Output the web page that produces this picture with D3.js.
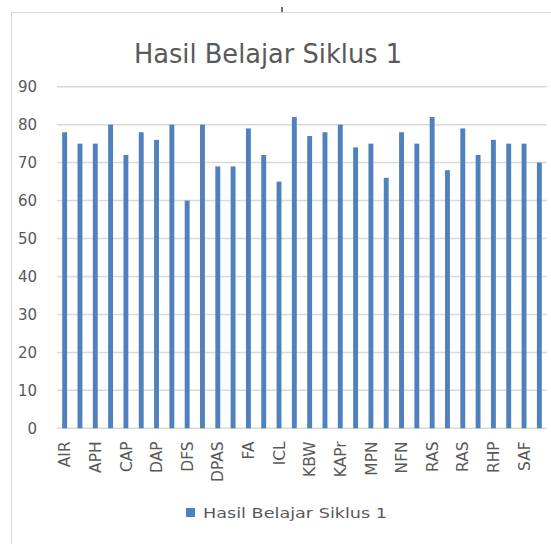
<!DOCTYPE html>
<html>
<head>
<meta charset="utf-8">
<script src="https://cdn.jsdelivr.net/npm/d3@7"></script>
<style>
  body { margin: 0; background: #fff; }
  text { font-family: "DejaVu Sans", sans-serif; fill: #595959; }
</style>
</head>
<body>
<div id="chart"></div>
<script>
// Chart values
var chartTitle = "Hasil Belajar Siklus 1";
var seriesName = "Hasil Belajar Siklus 1";

// only every other category name is printed on the axis
var tickLabels = ["AIR", "APH", "CAP", "DAP", "DFS", "DPAS", "FA", "ICL",
    "KBW", "KAPr", "MPN", "NFN", "RAS", "RAS", "RHP", "SAF"];

var values = [78, 75, 75, 80, 72, 78, 76, 80, 60, 80, 69, 69, 79, 72, 65, 82,
    77, 78, 80, 74, 75, 66, 78, 75, 82, 68, 79, 72, 76, 75, 75, 70];

var yTicks = [0, 10, 20, 30, 40, 50, 60, 70, 80, 90];

// SVG area
var svgWidth = 551;
var svgHeight = 544;

var plot = { left: 57, right: 547, top: 86.7, bottom: 428.3 };

var svg = d3.select("#chart")
    .append("svg")
    .attr("width", svgWidth)
    .attr("height", svgHeight);

// chart border (light frame, cut off on the right and bottom)
svg.append("path")
    .attr("d", "M11.5," + svgHeight + "V12.5H" + svgWidth)
    .attr("fill", "none")
    .attr("stroke", "#d9d9d9")
    .attr("stroke-width", 1);

// small dark mark above the frame
svg.append("line")
    .attr("x1", 282).attr("x2", 282)
    .attr("y1", 7).attr("y2", 12)
    .attr("stroke", "#404040")
    .attr("stroke-width", 1.5);

// scales
var xScale = d3.scaleBand()
    .domain(d3.range(values.length))
    .range([plot.left, plot.right])
    .paddingInner(0.68)
    .paddingOuter(0.34);

var yScale = d3.scaleLinear()
    .domain([0, 90])
    .range([plot.bottom, plot.top]);

// gridlines
svg.append("g")
    .selectAll("line")
    .data(yTicks)
    .enter()
    .append("line")
    .attr("x1", plot.left)
    .attr("x2", plot.right)
    .attr("y1", function (d) { return yScale(d); })
    .attr("y2", function (d) { return yScale(d); })
    .attr("stroke", "#d9d9d9")
    .attr("stroke-width", 1.5);

// y axis labels
var leftAxis = d3.axisLeft(yScale)
    .tickValues(yTicks)
    .tickSize(0)
    .tickPadding(0);

var yAxis = svg.append("g")
    .attr("transform", "translate(37,0)")
    .call(leftAxis);
yAxis.select(".domain").remove();
yAxis.selectAll("text")
    .style("font-size", "15px")
    .attr("fill", "#595959");

// bars
svg.append("g")
    .selectAll("rect")
    .data(values)
    .enter()
    .append("rect")
    .attr("x", function (d, i) { return xScale(i); })
    .attr("y", function (d) { return yScale(d); })
    .attr("width", xScale.bandwidth())
    .attr("height", function (d) { return yScale(0) - yScale(d); })
    .attr("fill", "#4f81bd");

// x axis labels (every other bar)
var bottomAxis = d3.axisBottom(xScale)
    .tickValues(d3.range(0, values.length, 2))
    .tickFormat(function (i) { return tickLabels[i / 2]; })
    .tickSize(0)
    .tickPadding(0);

var xAxis = svg.append("g")
    .attr("transform", "translate(0," + plot.bottom + ")")
    .call(bottomAxis);
xAxis.select(".domain").remove();
xAxis.selectAll("text")
    .style("font-size", "15.5px")
    .attr("fill", "#595959")
    .attr("text-anchor", "end")
    .attr("transform", "translate(0,13) rotate(-90)")
    .attr("x", 0)
    .attr("y", 0)
    .attr("dy", "0.36em");

// title
svg.append("text")
    .attr("x", 268)
    .attr("y", 63)
    .attr("text-anchor", "middle")
    .attr("textLength", 268)
    .attr("lengthAdjust", "spacingAndGlyphs")
    .style("font-size", "26px")
    .text(chartTitle);

// legend
svg.append("rect")
    .attr("x", 186)
    .attr("y", 508)
    .attr("width", 9)
    .attr("height", 9)
    .attr("fill", "#4f81bd");

svg.append("text")
    .attr("x", 203)
    .attr("y", 518)
    .attr("textLength", 184)
    .attr("lengthAdjust", "spacingAndGlyphs")
    .style("font-size", "14px")
    .text(seriesName);
</script>
</body>
</html>
